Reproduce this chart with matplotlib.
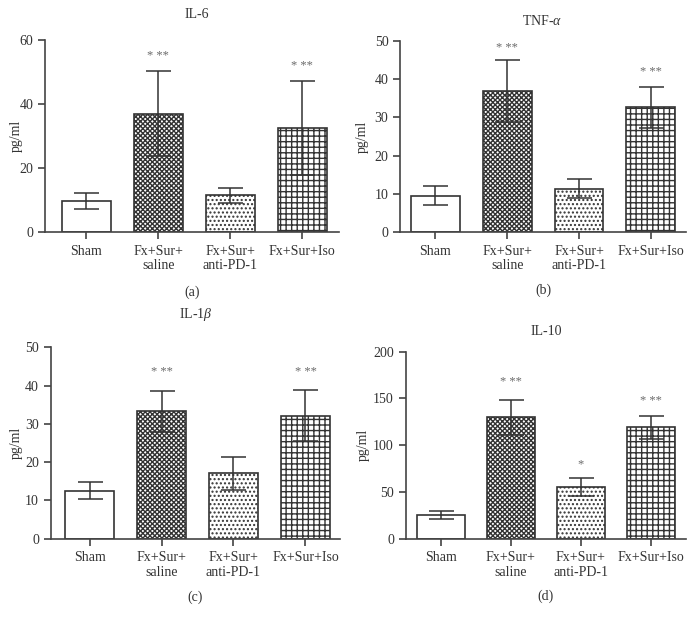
import matplotlib
matplotlib.use("Agg")
import matplotlib.pyplot as plt
import numpy as np

plt.rcParams['font.family'] = ['Liberation Serif', 'DejaVu Serif']
plt.rcParams['mathtext.fontset'] = 'custom'
plt.rcParams['mathtext.rm'] = 'Liberation Serif'
plt.rcParams['mathtext.it'] = 'Liberation Serif:italic'
plt.rcParams['hatch.linewidth'] = 1.0

categories = ["Sham", "Fx+Sur+\nsaline", "Fx+Sur+\nanti-PD-1", "Fx+Sur+Iso"]

il6_mean = [9.7, 37.0, 11.5, 32.4]
il6_err = [2.5, 13.2, 2.4, 14.7]
il6_sig = ["", "* **", "", "* **"]
il6_sig_y = [0, 55.8, 0, 52.5]

tnf_mean = [9.6, 36.9, 11.4, 32.6]
tnf_err = [2.4, 8.1, 2.5, 5.4]
tnf_sig = ["", "* **", "", "* **"]
tnf_sig_y = [0, 48.7, 0, 42.3]

il1b_mean = [12.5, 33.3, 17.1, 32.1]
il1b_err = [2.2, 5.3, 4.3, 6.7]
il1b_sig = ["", "* **", "", "* **"]
il1b_sig_y = [0, 44.1, 0, 44.1]

il10_mean = [25.7, 129.8, 55.0, 119.1]
il10_err = [4.3, 19.0, 9.6, 12.0]
il10_sig = ["", "* **", "*", "* **"]
il10_sig_y = [0, 170, 82, 150]

titles = ["IL-6", r"TNF-$\alpha$", r"IL-1$\beta$", "IL-10"]
panel_labels = ["(a)", "(b)", "(c)", "(d)"]
yticks_list = [[0, 20, 40, 60], [0, 10, 20, 30, 40, 50],
               [0, 10, 20, 30, 40, 50], [0, 50, 100, 150, 200]]

hatches = [None, 'xxxxxxx', '....', '+++']

dark = '#333333'
W, H = 694, 622
fig = plt.figure(figsize=(W / 100, H / 100), dpi=100)

# axes boxes in pixels: left, top, right, bottom
boxes = [(45, 40, 339, 232), (400.3, 40.7, 686, 232.3),
         (50.7, 347.3, 340, 538.7), (405.7, 351.7, 686, 538.7)]
xlims = [(-0.57, 3.51), (-0.49, 3.49), (-0.54, 3.48), (-0.5, 3.5)]
title_y = [1.135, 1.104, 1.169, 1.107]
title_x = [0.517, 0.496, 0.5, 0.5]
label_y = [-0.316, -0.305, -0.305, -0.306]
ylabel_x = [-0.075, -0.11, -0.097, -0.128]

means = [il6_mean, tnf_mean, il1b_mean, il10_mean]
errs = [il6_err, tnf_err, il1b_err, il10_err]
sigs = [il6_sig, tnf_sig, il1b_sig, il10_sig]
sig_ys = [il6_sig_y, tnf_sig_y, il1b_sig_y, il10_sig_y]

for i in range(4):
    l, t, r, b = boxes[i]
    ax = fig.add_axes([l / W, 1 - b / H, (r - l) / W, (b - t) / H])
    x = np.arange(len(categories))
    for j in range(len(categories)):
        ax.bar(x[j], means[i][j], width=0.68, color='white', edgecolor=dark,
               linewidth=1.2, hatch=hatches[j], zorder=2)
    ax.errorbar(x, means[i], yerr=errs[i], fmt='none', ecolor=dark,
                elinewidth=1.1, capsize=9, capthick=1.1, zorder=3)
    for j in range(len(categories)):
        if sigs[i][j]:
            ax.annotate(sigs[i][j], (x[j], sig_ys[i][j]),
                        xytext=(0, -1.5), textcoords='offset points',
                        ha='center', va='center', fontsize=9, color='#6a6a6a')
    yt = yticks_list[i]
    ax.set_ylim(0, yt[-1])
    ax.set_yticks(yt)
    ax.set_xlim(*xlims[i])
    ax.set_xticks(x)
    ax.set_xticklabels(categories, linespacing=1.15)
    ax.set_ylabel("pg/ml", fontsize=10, color=dark)
    ax.yaxis.set_label_coords(ylabel_x[i], 0.5)
    for s in ['top', 'right']:
        ax.spines[s].set_visible(False)
    for s in ['left', 'bottom']:
        ax.spines[s].set_color('#444444')
        ax.spines[s].set_linewidth(1.2)
    ax.tick_params(axis='both', colors=dark, labelsize=10, length=5, width=1.1)
    ax.tick_params(axis='x', pad=4)
    ax.text(title_x[i], title_y[i], titles[i], transform=ax.transAxes,
            ha='center', va='center', fontsize=10, color=dark)
    ax.text(0.5, label_y[i], panel_labels[i], transform=ax.transAxes,
            ha='center', va='center', fontsize=10, color=dark)

fig.savefig("out.png", dpi=100)
